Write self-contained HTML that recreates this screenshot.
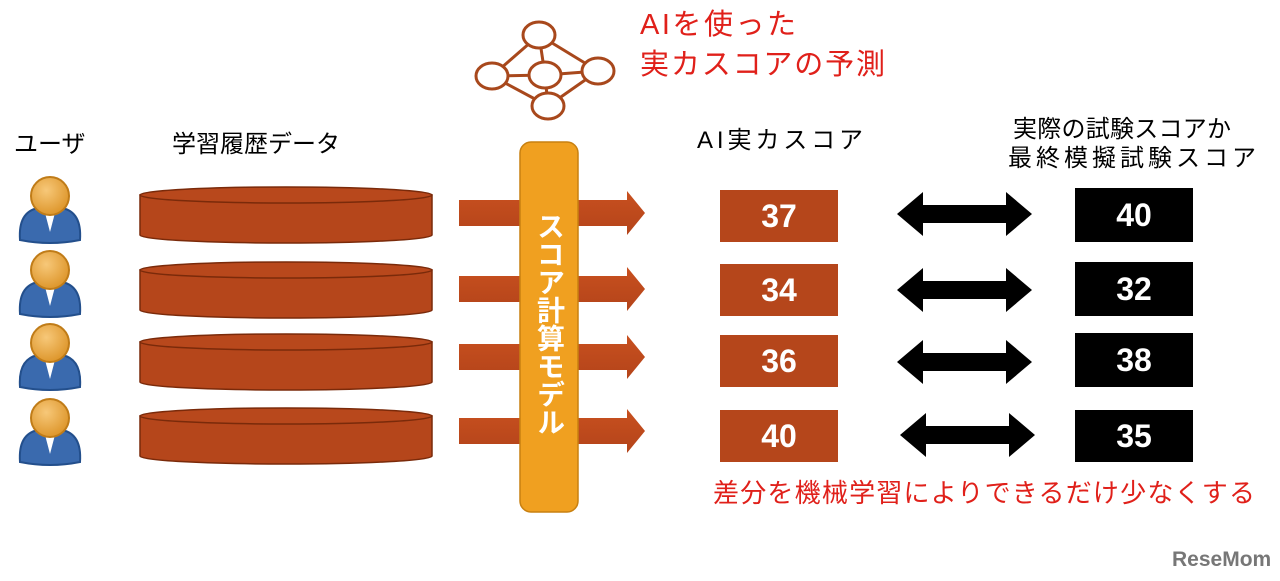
<!DOCTYPE html>
<html><head><meta charset="utf-8"><style>
body{margin:0;background:#fff;}
svg text{font-family:"Liberation Sans","Noto Sans CJK JP",sans-serif;}
#vt{position:absolute;left:520px;top:212px;width:58px;height:230px;writing-mode:vertical-rl;font-family:"Liberation Sans","Noto Sans CJK JP",sans-serif;font-size:28px;font-weight:bold;color:#fff;line-height:58px;text-align:start;letter-spacing:0px;}
</style></head><body>
<svg width="1280" height="581" viewBox="0 0 1280 581" xmlns="http://www.w3.org/2000/svg" style="position:absolute;left:0;top:0">
<defs>
<linearGradient id="ar" x1="0" y1="0" x2="0" y2="1"><stop offset="0" stop-color="#c8501f"/><stop offset="1" stop-color="#b4441a"/></linearGradient>
<radialGradient id="hd" cx="0.4" cy="0.35" r="0.7"><stop offset="0" stop-color="#f7c879"/><stop offset="1" stop-color="#dc9327"/></radialGradient>
<g id="user">
<path d="M-30,44 Q-32,16 -12,12 L12,12 Q32,16 30,44 Q0,50 -30,44Z" fill="#3a6aae" stroke="#234f8c" stroke-width="2"/>
<path d="M-6,13 L0,36 L6,13Z" fill="#fff"/>
<circle cx="0" cy="0" r="19" fill="url(#hd)" stroke="#c07c18" stroke-width="2"/>
</g>
<g id="cyl">
<path d="M0,8 L0,48 A146,8 0 0 0 292,48 L292,8Z" fill="#b5461b" stroke="#7a2a0a" stroke-width="1.5"/>
<ellipse cx="146" cy="8" rx="146" ry="8" fill="#b8481c" stroke="#7a2a0a" stroke-width="1.5"/>
</g>
<g id="arr"><path d="M0,-13 L168,-13 L168,-22 L186,0 L168,22 L168,13 L0,13Z" fill="url(#ar)"/></g>
<g id="dbl"><path d="M0,0 L26,-22 L26,-9 L109,-9 L109,-22 L135,0 L109,22 L109,9 L26,9 L26,22Z" fill="#000"/></g>
</defs>
<text x="14" y="152" font-size="24">ユーザ</text>
<text x="172" y="152" font-size="24">学習履歴データ</text>
<text x="697" y="148" font-size="24" textLength="166">AI実カスコア</text>
<text x="1013" y="137" font-size="24" textLength="218">実際の試験スコアか</text>
<text x="1008" y="166" font-size="24" textLength="248">最終模擬試験スコア</text>
<text x="640" y="34" font-size="29" fill="#e0201a" textLength="156">AIを使った</text>
<text x="640" y="74" font-size="29" fill="#e0201a" textLength="245">実カスコアの予測</text>
<text x="713" y="502" font-size="26" fill="#e0201a" textLength="542">差分を機械学習によりできるだけ少なくする</text>
<g stroke="#a8481c" stroke-width="3" fill="#fff">
<line x1="539" y1="35" x2="492" y2="76"/><line x1="539" y1="35" x2="598" y2="71"/><line x1="539" y1="35" x2="545" y2="75"/>
<line x1="492" y1="76" x2="545" y2="75"/><line x1="545" y1="75" x2="598" y2="71"/><line x1="492" y1="76" x2="548" y2="106"/>
<line x1="598" y1="71" x2="548" y2="106"/><line x1="545" y1="75" x2="548" y2="106"/>
<ellipse cx="539" cy="35" rx="16" ry="13"/><ellipse cx="492" cy="76" rx="16" ry="13"/><ellipse cx="545" cy="75" rx="16" ry="13"/>
<ellipse cx="598" cy="71" rx="16" ry="13"/><ellipse cx="548" cy="106" rx="16" ry="13"/>
</g>
<use href="#user" x="50" y="196"/><use href="#user" x="50" y="270"/><use href="#user" x="50" y="343"/><use href="#user" x="50" y="418"/>
<use href="#cyl" x="140" y="187"/><use href="#cyl" x="140" y="262"/><use href="#cyl" x="140" y="334"/><use href="#cyl" x="140" y="408"/>
<use href="#arr" x="459" y="213"/><use href="#arr" x="459" y="289"/><use href="#arr" x="459" y="357"/><use href="#arr" x="459" y="431"/>
<rect x="520" y="142" width="58" height="370" rx="11" fill="#f0a020" stroke="#c88010" stroke-width="1.5"/>
<g fill="#b5461b"><rect x="720" y="190" width="118" height="52"/><rect x="720" y="264" width="118" height="52"/><rect x="720" y="335" width="118" height="52"/><rect x="720" y="410" width="118" height="52"/></g>
<g font-size="32" font-weight="bold" fill="#fff" text-anchor="middle">
<text x="779" y="227">37</text><text x="779" y="301">34</text><text x="779" y="372">36</text><text x="779" y="447">40</text></g>
<use href="#dbl" x="897" y="214"/><use href="#dbl" x="897" y="290"/><use href="#dbl" x="897" y="362"/><use href="#dbl" x="900" y="435"/>
<g fill="#000"><rect x="1075" y="188" width="118" height="54"/><rect x="1075" y="262" width="118" height="54"/><rect x="1075" y="333" width="118" height="54"/><rect x="1075" y="410" width="118" height="52"/></g>
<g font-size="32" font-weight="bold" fill="#fff" text-anchor="middle">
<text x="1134" y="226">40</text><text x="1134" y="300">32</text><text x="1134" y="371">38</text><text x="1134" y="447">35</text></g>
<text x="1172" y="566" font-size="21" font-weight="bold" fill="#777">ReseMom</text>
</svg>
<div id="vt">スコア計算モデル</div>
</body></html>
